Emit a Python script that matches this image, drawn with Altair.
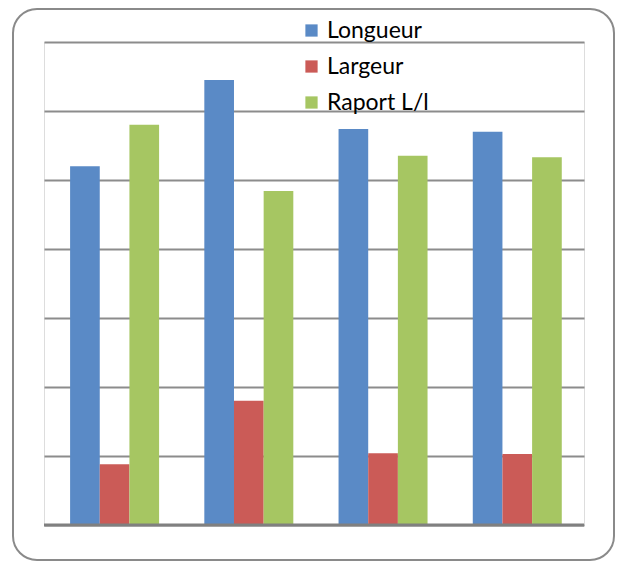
import altair as alt
import pandas as pd

groups = ["1", "2", "3", "4"]
series = ["Longueur", "Largeur", "Raport L/l"]
longueur = [5.20, 6.45, 5.74, 5.70]
largeur = [0.88, 1.80, 1.04, 1.03]
raport = [5.80, 4.84, 5.35, 5.33]
colors = ["#5A8AC6", "#CB5B57", "#A6C662"]
grid_values = [0, 1, 2, 3, 4, 5, 6, 7]

rows = []
for i, g in enumerate(groups):
    for s, vals in zip(series, [longueur, largeur, raport]):
        rows.append({"group": g, "series": s, "value": vals[i]})
df = pd.DataFrame(rows)

W, H = 540, 483

bars = alt.Chart(df).mark_bar().encode(
    x=alt.X("group:N", sort=groups, axis=None,
            scale=alt.Scale(paddingInner=0.337, paddingOuter=0.18, align=0.54)),
    xOffset=alt.XOffset("series:N", sort=series, scale=alt.Scale(paddingInner=0, paddingOuter=0)),
    y=alt.Y("value:Q", scale=alt.Scale(domain=[0, 7], nice=False, zero=True),
            axis=alt.Axis(values=grid_values, grid=True, gridColor="#8C8C8C", gridWidth=2,
                          labels=False, ticks=False, domain=False, title=None)),
    color=alt.Color("series:N", sort=series,
                    scale=alt.Scale(domain=series, range=colors),
                    legend=alt.Legend(orient="none", legendX=256, legendY=-23, title=None,
                                      symbolType="square", symbolSize=150, symbolStrokeWidth=0,
                                      labelFontSize=23, labelFont="Lato", labelColor="#000000",
                                      labelExpr="datum.label == 'Longueur' ? '\u00a0Longueur' : datum.label",
                                      rowPadding=12, labelOffset=4, padding=0)),
)

baseline = alt.Chart(alt.Data(values=[{"v": 0}])).mark_rule(
    color="#808080", strokeWidth=3
).encode(y="v:Q")

border = alt.Chart(alt.Data(values=[{}])).mark_rect(
    fillOpacity=0, stroke="#8A8A8A", strokeWidth=2, cornerRadius=24
).encode(
    x=alt.value(-31), x2=alt.value(570), y=alt.value(-33), y2=alt.value(518)
)

chart = alt.layer(border, bars, baseline).properties(
    width=W, height=H,
    autosize=alt.AutoSizeParams(type="none"),
    padding={"left": 36, "top": 34, "right": 34, "bottom": 36},
).configure_view(stroke=None).configure(background="#FFFFFF")

chart.save("out.html", embed_options={"renderer": "svg", "actions": False})
